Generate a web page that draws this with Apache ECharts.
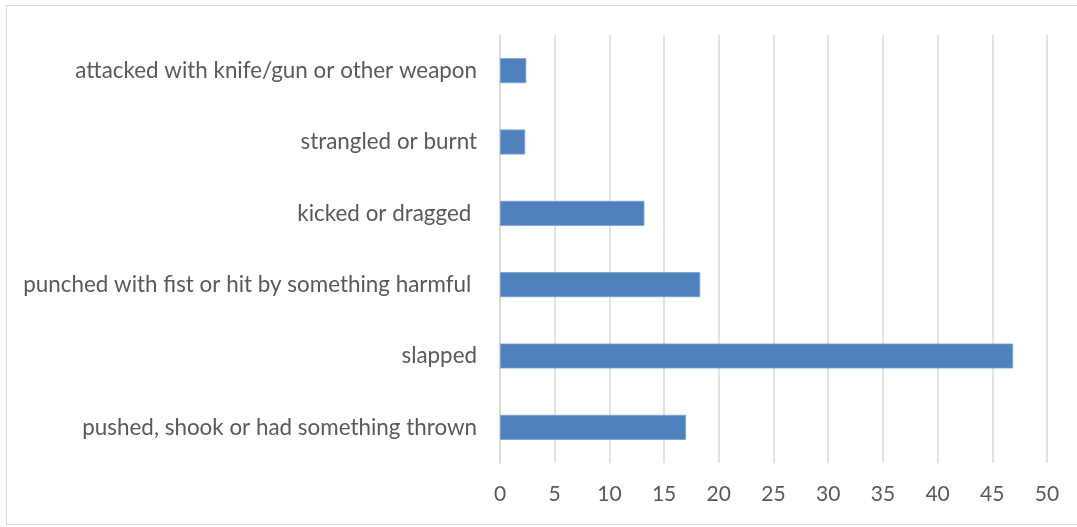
<!DOCTYPE html>
<html>
<head>
<meta charset="utf-8">
<script src="https://cdn.jsdelivr.net/npm/echarts@6/dist/echarts.min.js"></script>
<style>
html,body{margin:0;padding:0;background:#fff;overflow:hidden;}
#frame{position:absolute;left:6px;top:5px;width:1071px;height:520px;border:1.5px solid #d9d9d9;border-right:none;box-sizing:border-box;}
#chart{position:absolute;left:0;top:0;width:1077px;height:527px;}
</style>
</head>
<body>
<div id="frame"></div>
<div id="chart"></div>
<script>
var categories = [
  'pushed, shook or had something thrown',
  'slapped',
  'punched with fist or hit by something harmful ',
  'kicked or dragged ',
  'strangled or burnt',
  'attacked with knife/gun or other weapon'
];
var values = [17.0, 46.9, 18.3, 13.2, 2.3, 2.4];
var xTicks = [0, 50, 5];

var chart = echarts.init(document.getElementById('chart'), null, {renderer: 'canvas'});
chart.setOption({
  backgroundColor: 'transparent',
  animation: false,
  grid: {left: 500, right: 30, top: 35, bottom: 64, containLabel: false},
  xAxis: {
    type: 'value',
    min: xTicks[0], max: xTicks[1], interval: xTicks[2],
    axisLine: {show: false},
    axisTick: {show: false},
    splitLine: {show: true, lineStyle: {color: '#d9d9d9', width: 1.5}},
    axisLabel: {color: '#595959', fontFamily: 'Lato', fontSize: 21, margin: 21}
  },
  yAxis: {
    type: 'category',
    data: categories,
    axisLine: {show: true, lineStyle: {color: '#d9d9d9', width: 1.5}},
    axisTick: {show: false},
    axisLabel: {color: '#595959', fontFamily: 'Lato', fontSize: 22.4, margin: 23}
  },
  series: [{
    type: 'bar',
    data: values,
    barCategoryGap: '65%',
    itemStyle: {color: '#4f81bd', borderColor: '#7ba0d0', borderWidth: 0.8}
  }]
});
</script>
</body>
</html>
